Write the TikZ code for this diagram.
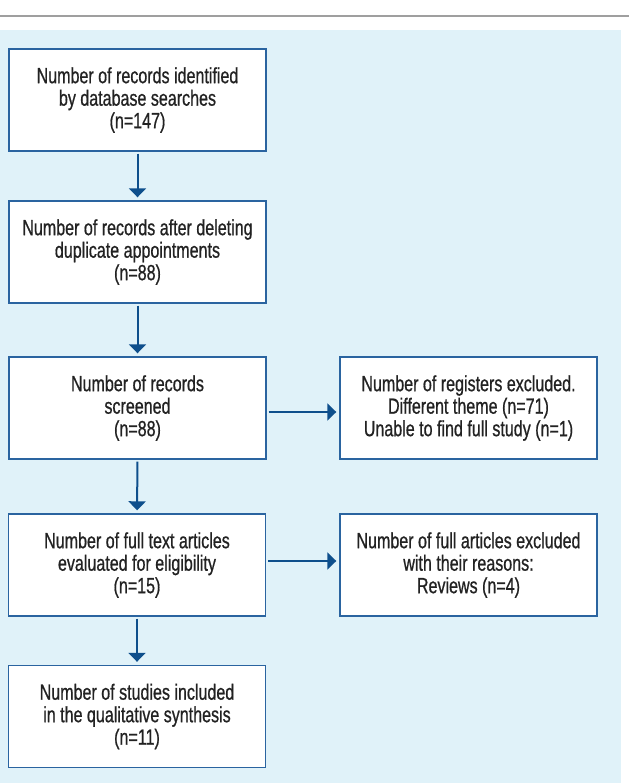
\documentclass[tikz,border=0pt]{standalone}
\usepackage{fontspec}
\setmainfont{Liberation Sans}[FakeStretch=0.73,FakeBold=0.7]
\usetikzlibrary{arrows.meta}
\definecolor{bgblue}{HTML}{E0F2F9}
\definecolor{boxblue}{HTML}{2A64A0}
\definecolor{arrblue}{HTML}{0E4F8C}
\definecolor{txtgray}{HTML}{222222}
\tikzset{
  stagebox/.style={draw=boxblue, line width=1.4pt, fill=white, minimum width=257pt, minimum height=102pt, inner sep=0pt, align=center, font=\fontsize{22pt}{22.5pt}\selectfont, text=txtgray},
  flowarrow/.style={draw=arrblue, line width=2pt, -{Triangle[width=17pt,length=9pt]}, shorten <=2pt, shorten >=3pt}
}
\begin{document}
\begin{tikzpicture}[x=1pt,y=-1pt]
\useasboundingbox (0,0) rectangle (629,783);
\fill[white] (0,0) rectangle (629,783);
\draw[gray!75, line width=1.6pt] (0,16) -- (629,16);
\fill[bgblue] (0,30) rectangle (621,783);
\node[stagebox] (b1) at (137.5,100) {Number of records identified\\by database searches\\(n=147)};
\node[stagebox] (b2) at (137.5,252) {Number of records after deleting\\duplicate appointments\\(n=88)};
\node[stagebox] (b3) at (137.5,408) {Number of records\\screened\\(n=88)};
\node[stagebox] (b4) at (137,565) {Number of full text articles\\evaluated for eligibility\\(n=15)};
\node[stagebox] (b6) at (137,716.5) {Number of studies included\\in the qualitative synthesis\\(n=11)};
\node[stagebox] (b5) at (468.5,408) {Number of registers excluded.\\Different theme (n=71)\\Unable to find full study (n=1)};
\node[stagebox] (b7) at (468.5,565) {Number of full articles excluded\\with their reasons:\\Reviews (n=4)};
\draw[flowarrow] (b1.south) -- (b2.north);
\draw[flowarrow] (b2.south) -- (b3.north);
\draw[flowarrow] (b3.south) -- (b4.north);
\draw[flowarrow] (b4.south) -- (b6.north);
\draw[flowarrow] ([yshift=-4pt]b3.east) -- ([yshift=-4pt]b5.west);
\draw[flowarrow] ([yshift=4pt]b4.east) -- ([yshift=4pt]b7.west);
\end{tikzpicture}
\end{document}
